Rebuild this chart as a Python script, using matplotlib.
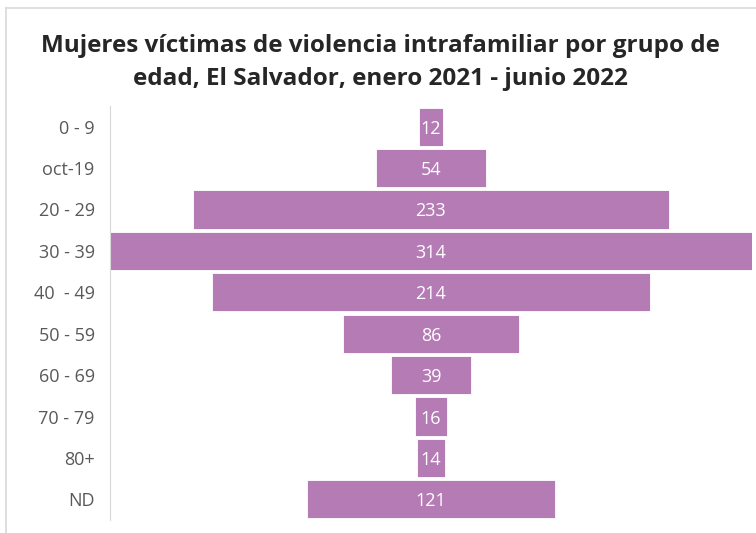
import matplotlib
matplotlib.use("Agg")
import matplotlib.pyplot as plt

# data
grupos = ["0 - 9", "oct-19", "20 - 29", "30 - 39", "40  - 49",
          "50 - 59", "60 - 69", "70 - 79", "80+", "ND"]
victimas = [12, 54, 233, 314, 214, 86, 39, 16, 14, 121]

titulo = ("Mujeres víctimas de violencia intrafamiliar por grupo de\n"
          "edad, El Salvador, enero 2021 - junio 2022")

color_barra = "#B57BB5"
W, H = 756, 533

fig = plt.figure(figsize=(W / 100, H / 100), dpi=100)
fig.patch.set_facecolor("white")

# light chart frame (left and top edges visible)
fig.add_artist(plt.Line2D([6 / W, 6 / W], [0, 1 - 8 / H], color="#D9D9D9", lw=1.2))
fig.add_artist(plt.Line2D([6 / W, 1], [1 - 8 / H, 1 - 8 / H], color="#D9D9D9", lw=1.2))

ax = fig.add_axes([110 / W, 1 - 520 / H, (752 - 110) / W, (520 - 106) / H])

pos = list(range(len(grupos)))
izq = [-v / 2 for v in victimas]
bars = ax.barh(pos, victimas, left=izq, height=0.92, color=color_barra,
               edgecolor="white", linewidth=0.6)

for b, v in zip(bars, victimas):
    ax.text(0, b.get_y() + b.get_height() / 2, str(v), ha="center",
            va="center_baseline", color="white", fontsize=13, family="Open Sans")

mx = max(victimas) / 2
ax.set_xlim(-mx, mx)
ax.set_ylim(len(grupos) - 0.5, -0.5)
ax.set_yticks(pos)
ax.set_yticklabels(grupos, fontsize=13, color="#595959", family="Open Sans")
ax.tick_params(axis="y", length=0, pad=11)
ax.set_xticks([])
for s in ["top", "right", "bottom"]:
    ax.spines[s].set_visible(False)
ax.spines["left"].set_color("#D9D9D9")

fig.text(380 / W, 1 - 62.5 / H, titulo, ha="center", va="center", fontsize=17.5,
         fontweight="bold", color="#262626", family="Open Sans", linespacing=1.45)

fig.savefig("out.png", dpi=100)
